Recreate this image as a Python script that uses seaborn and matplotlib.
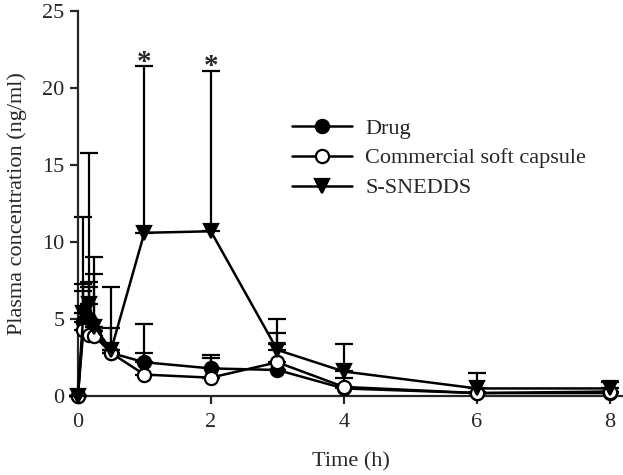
import numpy as np
import pandas as pd
import matplotlib
matplotlib.use("Agg")
import matplotlib.pyplot as plt
import seaborn as sns

# Sampling times (h)
time_h = [0, 0.083, 0.167, 0.25, 0.5, 1, 2, 3, 4, 6, 8]

# Mean plasma concentrations (ng/ml)
drug_mean = [0, 4.8, 5.0, 4.2, 2.8, 2.2, 1.8, 1.7, 0.5, 0.2, 0.2]
capsule_mean = [0, 4.3, 4.0, 3.9, 2.8, 1.4, 1.2, 2.2, 0.6, 0.2, 0.3]
snedds_mean = [0, 5.4, 6.0, 4.5, 3.0, 10.6, 10.7, 3.0, 1.6, 0.5, 0.5]

# Upper SD (ng/ml)
drug_sd = [0, 6.8, 2.1, 3.7, 1.6, 0.6, 0.9, 1.7, 0.7, 0.1, 0.1]
capsule_sd = [0, 2.5, 3.4, 0.6, 0.2, 3.3, 1.3, 1.9, 0.0, 0.0, 0.0]
snedds_sd = [0, 1.9, 9.8, 4.5, 4.1, 10.8, 10.4, 2.0, 1.8, 1.0, 0.4]

series_names = ["Drug", "Commercial soft capsule", "S-SNEDDS"]
sig_times = [1, 2]

sns.set_style("ticks")
plt.rcParams["font.family"] = ["Liberation Serif", "DejaVu Serif"]

fig = plt.figure(figsize=(6.23, 4.75), dpi=100)
ax = fig.add_axes([0.125, 0.166, 0.875, 0.811])

styles = [
    (drug_mean, drug_sd, "o", "black", 3),
    (capsule_mean, capsule_sd, "o", "white", 4),
    (snedds_mean, snedds_sd, "v", "black", 5),
]

for name, (mean, sd, mk, fc, z) in zip(series_names, styles):
    ax.errorbar(time_h, mean, yerr=[np.zeros(len(sd)), sd], fmt="none",
                ecolor="black", elinewidth=1.6, capsize=6.5, capthick=1.6,
                zorder=z - 1, clip_on=False)
    df = pd.DataFrame({"t": time_h, "c": mean})
    sns.lineplot(data=df, x="t", y="c", ax=ax, color="black", lw=1.8,
                 marker=mk, markersize=9.5, markerfacecolor=fc,
                 markeredgecolor="black", markeredgewidth=1.6,
                 label=name, zorder=z, clip_on=False)

# significance marks
for t in sig_times:
    i = time_h.index(t)
    ax.text(t, snedds_mean[i] + snedds_sd[i] - 0.6, "*", ha="center",
            va="bottom", fontsize=21, fontweight="bold")

ax.set_xlim(0, 8.2)
ax.set_ylim(0, 25)
ax.set_xticks([0, 2, 4, 6, 8])
ax.set_yticks([0, 5, 10, 15, 20, 25])
ax.tick_params(labelsize=16, width=1.6, length=6, direction="out")
ax.tick_params(axis="x", pad=6)
ax.set_xlabel("Time (h)", fontsize=16, labelpad=15)
ax.set_ylabel("Plasma concentration (ng/ml)", fontsize=16, labelpad=11)
for s in ["top", "right"]:
    ax.spines[s].set_visible(False)
for s in ["left", "bottom"]:
    ax.spines[s].set_linewidth(1.6)

ax.legend(loc="upper left", bbox_to_anchor=(0.393, 0.722), frameon=False,
          fontsize=16, handlelength=2.7, handletextpad=0.6,
          labelspacing=0.42, borderpad=0, borderaxespad=0)

fig.savefig("out.png", dpi=100)
